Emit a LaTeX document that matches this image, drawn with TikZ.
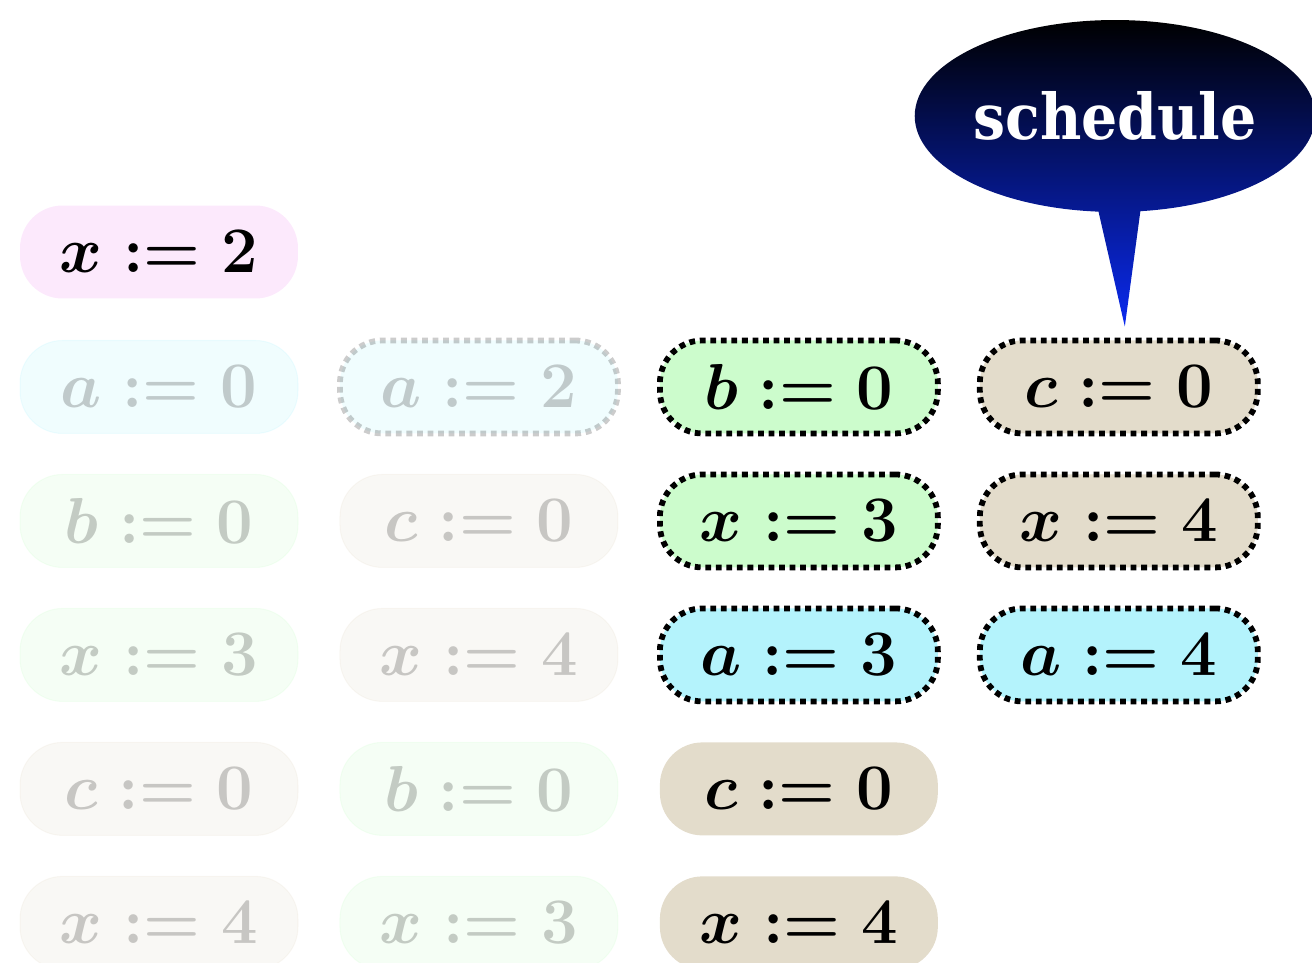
\RequirePackage{fix-cm}
\documentclass[tikz,border=0pt]{standalone}
\usepackage{fontspec}
\usepackage{xcolor}
\usepackage{tikz}
\usetikzlibrary{positioning,shapes.callouts}
\newfontfamily\slabfont{DejaVu Serif Condensed}
\definecolor{pinkish}{HTML}{FCE9FC}
\definecolor{mint}{HTML}{CCFCCC}
\definecolor{sand}{HTML}{E3DCCB}
\definecolor{sky}{HTML}{B4F3FC}
\definecolor{tipblue}{HTML}{0A2AF0}

\begin{document}
\begin{tikzpicture}[x=0.02cm,y=-0.02cm,
      every node/.style={font=\fontsize{37}{44}\selectfont\boldmath},
      assign/.style={rounded corners=.85cm,minimum width=5.56cm,minimum height=1.86cm,inner sep=0pt,outer sep=0pt},
      faded/.style={opacity=.2,draw=#1,fill=#1,line width=.6pt},
      picked/.style={draw=black,line width=3.3pt,dash pattern=on 3.3pt off 2.7pt},
      bubble/.style={ellipse callout,minimum width=7.92cm,minimum height=3.84cm,inner sep=0pt,
        top color=black,bottom color=tipblue,draw=none,text=white,callout pointer arc=12,
        font=\fontsize{36}{42}\selectfont\slabfont\bfseries}]
      \useasboundingbox (0,0) rectangle (1312,963);
      % initial assignment
      \node[assign,fill=pinkish] (init) at (159,252) {$x := 2$};
      % left column
      \node[assign,faded=sky,below=.84cm of init] (la0) {$a := 0$};
      \node[assign,faded=mint,below=.82cm of la0] (lb0) {$b := 0$};
      \node[assign,faded=mint,below=.82cm of lb0] (lx3) {$x := 3$};
      \node[assign,faded=sand,below=.82cm of lx3] (lc0) {$c := 0$};
      \node[assign,faded=sand,below=.82cm of lc0] (lx4) {$x := 4$};
      % middle column
      \node[assign,faded=sky,picked,right=.84cm of la0] (ma2) {$a := 2$};
      \node[assign,faded=sand,below=.82cm of ma2] (mc0) {$c := 0$};
      \node[assign,faded=sand,below=.82cm of mc0] (mx4) {$x := 4$};
      \node[assign,faded=mint,below=.82cm of mx4] (mb0) {$b := 0$};
      \node[assign,faded=mint,below=.82cm of mb0] (mx3) {$x := 3$};
      % scheduled columns
      \node[assign,fill=mint,picked,right=.84cm of ma2] (gb0) {$b := 0$};
      \node[assign,fill=mint,picked,below=.82cm of gb0] (gx3) {$x := 3$};
      \node[assign,fill=sky,picked,below=.82cm of gx3] (ga3) {$a := 3$};
      \node[assign,fill=sand,below=.82cm of ga3] (gc0) {$c := 0$};
      \node[assign,fill=sand,below=.82cm of gc0] (gx4) {$x := 4$};
      \node[assign,fill=sand,picked,right=.84cm of gb0] (rc0) {$c := 0$};
      \node[assign,fill=sand,picked,below=.82cm of rc0] (rx4) {$x := 4$};
      \node[assign,fill=sky,picked,below=.82cm of rx4] (ra4) {$a := 4$};
      % callout
      \node[bubble,callout absolute pointer={([xshift=.12cm,yshift=.28cm]rc0.north)}] (sched) at (1115,116) {schedule};
    \end{tikzpicture}
\end{document}
